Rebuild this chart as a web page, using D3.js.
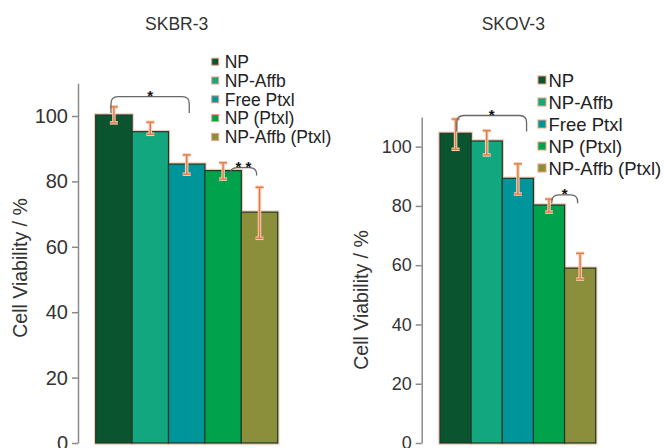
<!DOCTYPE html>
<html>
<head>
<meta charset="utf-8">
<script src="https://cdn.jsdelivr.net/npm/d3@7"></script>
<style>
  body { margin: 0; background: #fff; }
  svg { display: block; font-family: "Liberation Sans", Arial, sans-serif; }
</style>
</head>
<body>
<div id="vis"></div>
<script>
// categories and colours shared by both panels
var categories = ["NP", "NP-Affb", "Free Ptxl", "NP (Ptxl)", "NP-Affb (Ptxl)"];
var barColors = ["#0b5430", "#13a77f", "#00959b", "#00a24c", "#8b8f3b"];
var yTicks = [0, 20, 40, 60, 80, 100];

// SKBR-3 panel
var skbrValues = [100.3, 95.2, 85.3, 83.3, 70.6];
var skbrErrUp = [2.5, 2.9, 2.8, 2.4, 7.6];
var skbrErrDown = [2.4, 0.8, 3.1, 2.6, 8.0];
var skbrBrackets = [
    { from: 0.42, to: 2.57, level: 105.9, drop: 5.0, label: "*" },
    { from: 3.69, to: 4.42, level: 84.2, drop: 2.4, label: "* *" }
];

// SKOV-3 panel
var skovValues = [104.5, 101.9, 89.3, 80.3, 59.0];
var skovErrUp = [4.8, 3.5, 4.9, 2.0, 5.0];
var skovErrDown = [5.4, 4.7, 5.3, 2.4, 3.7];
var skovBrackets = [
    { from: 0.54, to: 2.78, level: 110.5, drop: 5.4, label: "*" },
    { from: 3.59, to: 4.42, level: 83.7, drop: 2.8, label: "*" }
];

var width = 664;
var height = 448;
var svgElement;

function main() {
    svgElement = d3.select('#vis').append('svg')
        .attr('width', width)
        .attr('height', height);

    drawPanel({
        title: "SKBR-3", titleX: 176.7,
        values: skbrValues, errUp: skbrErrUp, errDown: skbrErrDown, brackets: skbrBrackets,
        x0: 95.7, x1: 277.7, yBottom: 443, yTop: 83.3, axisX: 78,
        tickFont: 20, labelX: 26.5, labelY: 268,
        legendX: 211.7, legendY: 61.7, legendStep: 18.8, legendSize: 7, legendGap: 6, legendFont: 17.5
    });
    drawPanel({
        title: "SKOV-3", titleX: 513.3,
        values: skovValues, errUp: skovErrUp, errDown: skovErrDown, brackets: skovBrackets,
        x0: 440, x1: 595.7, yBottom: 443, yTop: 117, axisX: 421.7,
        tickFont: 18, labelX: 368, labelY: 300,
        legendX: 538, legendY: 80, legendStep: 22, legendSize: 8, legendGap: 2.5, legendFont: 18.5
    });
}

function drawPanel(p) {
    var g = svgElement.append('g');
    var x = d3.scaleBand().domain(categories).range([p.x0, p.x1]).paddingInner(0).paddingOuter(0);
    var xi = d3.scaleLinear().domain([0, categories.length]).range([p.x0, p.x1]);
    var y = d3.scaleLinear().domain([0, 110]).range([p.yBottom, p.yTop]);

    g.append('text')
        .attr('x', p.titleX).attr('y', 30)
        .attr('text-anchor', 'middle')
        .attr('font-size', 17.5).attr('fill', '#333')
        .text(p.title);

    // y axis
    var axis = g.append('g')
        .attr('transform', 'translate(' + p.axisX + ',0)')
        .call(d3.axisLeft(y).tickValues(yTicks).tickSize(6).tickPadding(4).tickSizeOuter(0));
    axis.select('.domain').attr('stroke', '#8a8a8a').attr('stroke-width', 1.5);
    axis.selectAll('.tick line').attr('stroke', '#8a8a8a').attr('stroke-width', 1.5);
    axis.selectAll('.tick text')
        .attr('font-size', p.tickFont)
        .attr('font-family', '"Liberation Sans", Arial, sans-serif')
        .attr('fill', '#333');

    g.append('text')
        .attr('transform', 'translate(' + p.labelX + ',' + p.labelY + ') rotate(-90)')
        .attr('text-anchor', 'middle')
        .attr('font-size', 19.5).attr('fill', '#333')
        .text('Cell Viability / %');

    // bars: soft salmon halo, then the bar with a dark edge
    g.selectAll('rect.halo').data(p.values).enter().append('rect')
        .attr('class', 'halo')
        .attr('x', function (d, i) { return x(categories[i]); })
        .attr('y', function (d) { return y(d); })
        .attr('width', x.bandwidth())
        .attr('height', function (d) { return y(0) - y(d); })
        .attr('fill', 'none')
        .attr('stroke', '#f6c9b4').attr('stroke-width', 3.5);
    g.selectAll('rect.bar').data(p.values).enter().append('rect')
        .attr('class', 'bar')
        .attr('x', function (d, i) { return x(categories[i]); })
        .attr('y', function (d) { return y(d); })
        .attr('width', x.bandwidth())
        .attr('height', function (d) { return y(0) - y(d); })
        .attr('fill', function (d, i) { return barColors[i]; })
        .attr('stroke', '#1c3a2c').attr('stroke-width', 1.2);

    // error bars
    var errs = p.values.map(function (v, i) {
        return { cx: x(categories[i]) + x.bandwidth() / 2, hi: v + p.errUp[i], lo: v - p.errDown[i] };
    });
    [['#f9cdb8', 3.5], ['#e27b44', 1.4]].forEach(function (s) {
        var eg = g.append('g').attr('stroke', s[0]).attr('stroke-width', s[1]);
        errs.forEach(function (e) {
            eg.append('line').attr('x1', e.cx).attr('x2', e.cx).attr('y1', y(e.hi)).attr('y2', y(e.lo));
            eg.append('line').attr('x1', e.cx - 4).attr('x2', e.cx + 4).attr('y1', y(e.hi)).attr('y2', y(e.hi));
            eg.append('line').attr('x1', e.cx - 4).attr('x2', e.cx + 4).attr('y1', y(e.lo)).attr('y2', y(e.lo));
        });
    });

    // significance brackets
    p.brackets.forEach(function (b) {
        var xa = xi(b.from), xb = xi(b.to);
        var yt = y(b.level), yd = y(b.level - b.drop);
        var r = Math.min(7, (xb - xa) / 3);
        g.append('path')
            .attr('d', 'M' + xa + ',' + yd + ' L' + xa + ',' + (yt + r) +
                ' Q' + xa + ',' + yt + ' ' + (xa + r) + ',' + yt +
                ' L' + (xb - r) + ',' + yt +
                ' Q' + xb + ',' + yt + ' ' + xb + ',' + (yt + r) +
                ' L' + xb + ',' + yd)
            .attr('fill', 'none').attr('stroke', '#666').attr('stroke-width', 1.3);
        g.append('text')
            .attr('x', (xa + xb) / 2).attr('y', yt + 4)
            .attr('text-anchor', 'middle')
            .attr('font-size', 15).attr('font-weight', 'bold').attr('fill', '#111')
            .attr('xml:space', 'preserve')
            .text(b.label);
    });

    // legend
    var lg = g.append('g');
    categories.forEach(function (c, i) {
        var cy = p.legendY + i * p.legendStep;
        lg.append('rect')
            .attr('x', p.legendX).attr('y', cy - p.legendSize / 2)
            .attr('width', p.legendSize).attr('height', p.legendSize)
            .attr('fill', barColors[i])
            .attr('stroke', '#e9a07e').attr('stroke-width', 1);
        lg.append('text')
            .attr('x', p.legendX + p.legendSize + p.legendGap)
            .attr('y', cy + p.legendFont * 0.36)
            .attr('font-size', p.legendFont).attr('fill', '#222')
            .text(c);
    });
}

main();
</script>
</body>
</html>
